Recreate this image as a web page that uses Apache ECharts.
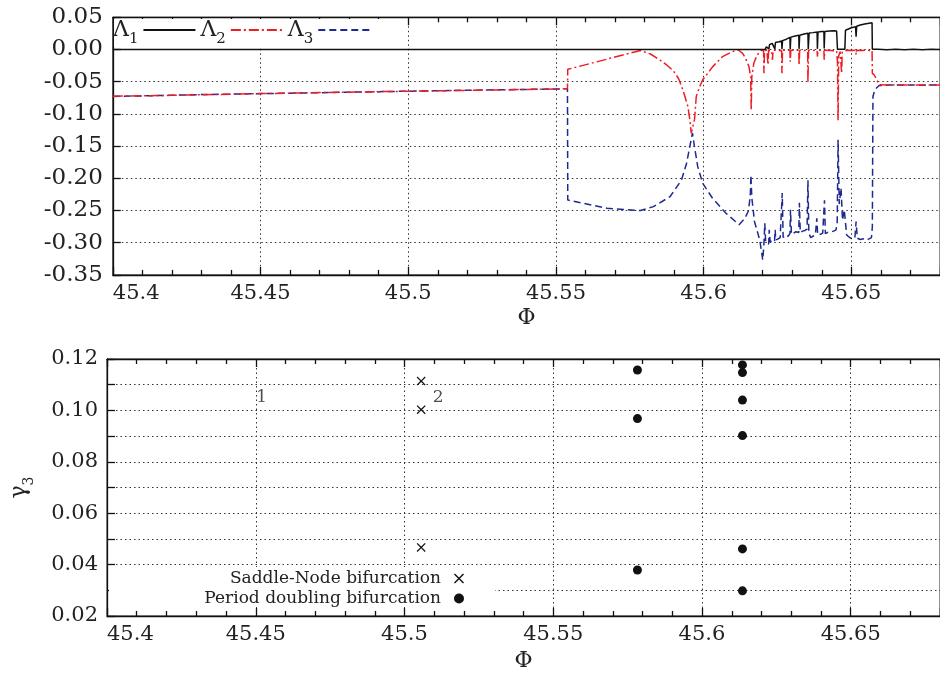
<!DOCTYPE html>
<html>
<head>
<meta charset="utf-8">
<script src="https://cdn.jsdelivr.net/npm/echarts@6/dist/echarts.min.js"></script>
<style>html,body{margin:0;padding:0;background:#fff}#c{width:940px;height:675px}</style>
</head>
<body>
<div id="c"></div>
<script>
// ---------- data ----------
const xTicks = ['45.4', '45.45', '45.5', '45.55', '45.6', '45.65'];
const topYTicks = ['0.05', '0.00', '-0.05', '-0.10', '-0.15', '-0.20', '-0.25', '-0.30', '-0.35'];
const bottomYTicks = ['0.12', '0.10', '0.08', '0.06', '0.04', '0.02'];
const seriesNames = ['Λ1', 'Λ2', 'Λ3'];

const lambda1 = [
  [45.40, 0.0000], [45.45, 0.0000], [45.50, 0.0000], [45.55, 0.0000], [45.60, 0.0000],
  [45.6208, 0.0000], [45.6212, 0.0040], [45.6218, 0.0060], [45.6221, 0.0010], [45.6223, 0.0075],
  [45.6232, 0.0096], [45.6238, 0.0102], [45.6241, 0.0010], [45.6243, 0.0108], [45.6255, 0.0120],
  [45.6264, 0.0132], [45.6265, 0.0005], [45.6267, 0.0138], [45.6280, 0.0160], [45.6292, 0.0188],
  [45.6293, 0.0005], [45.6295, 0.0192], [45.6310, 0.0210], [45.6322, 0.0222], [45.6323, 0.0010],
  [45.6325, 0.0222], [45.6340, 0.0240], [45.6353, 0.0252], [45.6354, 0.0005], [45.6357, 0.0255],
  [45.6370, 0.0262], [45.6384, 0.0270], [45.6385, 0.0010], [45.6387, 0.0272], [45.6400, 0.0278],
  [45.6407, 0.0280], [45.6408, 0.0015], [45.6410, 0.0281], [45.6425, 0.0286], [45.6440, 0.0290],
  [45.6450, 0.0286], [45.6453, 0.0005], [45.6465, 0.0005], [45.6478, 0.0005], [45.6480, 0.0300],
  [45.6490, 0.0318], [45.6500, 0.0338], [45.6514, 0.0355], [45.6516, 0.0200], [45.6518, 0.0360],
  [45.6530, 0.0380], [45.6545, 0.0395], [45.6560, 0.0408], [45.6570, 0.0416], [45.6571, 0.0005],
  [45.6590, 0.0004], [45.6620, -0.0004], [45.6650, 0.0005], [45.6680, -0.0003], [45.6710, 0.0004],
  [45.6740, -0.0004], [45.6770, 0.0003], [45.6800, 0.0000]
];

const lambda2 = [
  [45.400, -0.0725], [45.420, -0.0712], [45.450, -0.0685], [45.480, -0.0662], [45.500, -0.0648],
  [45.530, -0.0628], [45.5539, -0.0610], [45.5540, -0.0308], [45.5673, -0.0150], [45.5786, -0.0015],
  [45.5820, -0.0070], [45.5852, -0.0163], [45.5875, -0.0240], [45.5897, -0.0330], [45.5915, -0.0450],
  [45.5930, -0.0630], [45.5947, -0.0890], [45.5953, -0.1090], [45.5958, -0.1300], [45.5963, -0.1300],
  [45.5969, -0.1090], [45.5975, -0.0730], [45.5986, -0.0580], [45.5997, -0.0470], [45.6030, -0.0270],
  [45.6064, -0.0110], [45.6097, -0.0034], [45.6118, -0.0008], [45.6132, -0.0060], [45.6142, -0.0140],
  [45.6153, -0.0260], [45.6159, -0.0420], [45.6161, -0.0940], [45.6163, -0.0420], [45.6170, -0.0210],
  [45.6181, -0.0085], [45.6196, -0.0010], [45.6203, -0.0020], [45.6204, -0.0370], [45.6206, -0.0020],
  [45.6214, -0.0010], [45.6218, -0.0240], [45.6220, -0.0010], [45.6230, -0.0020], [45.6233, -0.0160],
  [45.6235, -0.0010], [45.6250, -0.0015], [45.6264, -0.0020], [45.6265, -0.0370], [45.6267, -0.0010],
  [45.6280, -0.0015], [45.6292, -0.0010], [45.6293, -0.0190], [45.6295, -0.0010], [45.6310, -0.0015],
  [45.6322, -0.0010], [45.6323, -0.0240], [45.6325, -0.0010], [45.6340, -0.0015], [45.6352, -0.0020],
  [45.6353, -0.0510], [45.6355, -0.0010], [45.6370, -0.0015], [45.6384, -0.0010], [45.6385, -0.0110],
  [45.6387, -0.0010], [45.6400, -0.0015], [45.6407, -0.0020], [45.6408, -0.0160], [45.6410, -0.0010],
  [45.6430, -0.0015], [45.6450, -0.0020], [45.6453, -0.0200], [45.6455, -0.1100], [45.6457, -0.0100],
  [45.6462, -0.0030], [45.6467, -0.0370], [45.6469, -0.0040], [45.6478, -0.0020], [45.6490, -0.0010],
  [45.6505, -0.0015], [45.6515, -0.0010], [45.6516, -0.0080], [45.6518, -0.0010], [45.6535, -0.0015],
  [45.6550, -0.0010], [45.6562, -0.0015], [45.6570, -0.0010], [45.6571, -0.0370], [45.6578, -0.0400],
  [45.6585, -0.0460], [45.6594, -0.0545], [45.6620, -0.0552], [45.6660, -0.0550], [45.6700, -0.0553],
  [45.6750, -0.0551], [45.6800, -0.0552]
];

const lambda3 = [
  [45.400, -0.0730], [45.430, -0.0700], [45.460, -0.0678], [45.490, -0.0655], [45.520, -0.0633],
  [45.5539, -0.0610], [45.5540, -0.2337], [45.5673, -0.2466], [45.5786, -0.2500], [45.5830, -0.2440],
  [45.5886, -0.2286], [45.5925, -0.2026], [45.5942, -0.1770], [45.5953, -0.1510], [45.5962, -0.1300],
  [45.5969, -0.1510], [45.5980, -0.1820], [45.5997, -0.2080], [45.6030, -0.2310], [45.6075, -0.2540],
  [45.6120, -0.2720], [45.6140, -0.2620], [45.6152, -0.2500], [45.6158, -0.2250], [45.6160, -0.1950],
  [45.6163, -0.2300], [45.6172, -0.2670], [45.6190, -0.2960], [45.6200, -0.3270], [45.6204, -0.3020],
  [45.6207, -0.2700], [45.6210, -0.3000], [45.6216, -0.2970], [45.6220, -0.3020], [45.6222, -0.2800],
  [45.6225, -0.2990], [45.6232, -0.2960], [45.6240, -0.2980], [45.6242, -0.2800], [45.6244, -0.2960],
  [45.6252, -0.2940], [45.6259, -0.2920], [45.6264, -0.2900], [45.6266, -0.2230], [45.6269, -0.2920],
  [45.6278, -0.2880], [45.6286, -0.2900], [45.6292, -0.2860], [45.6294, -0.2490], [45.6297, -0.2870],
  [45.6305, -0.2850], [45.6312, -0.2830], [45.6318, -0.2850], [45.6322, -0.2840], [45.6324, -0.2380],
  [45.6327, -0.2840], [45.6335, -0.2820], [45.6343, -0.2810], [45.6350, -0.2790], [45.6353, -0.2030],
  [45.6356, -0.2850], [45.6362, -0.2920], [45.6370, -0.2900], [45.6378, -0.2880], [45.6383, -0.2620],
  [45.6386, -0.2880], [45.6395, -0.2870], [45.6403, -0.2850], [45.6409, -0.2340], [45.6412, -0.2860],
  [45.6420, -0.2840], [45.6430, -0.2830], [45.6440, -0.2820], [45.6448, -0.2800], [45.6452, -0.2700],
  [45.6455, -0.1400], [45.6459, -0.2400], [45.6465, -0.2150], [45.6470, -0.2650], [45.6476, -0.2490],
  [45.6484, -0.2880], [45.6494, -0.2920], [45.6504, -0.2940], [45.6512, -0.2920], [45.6516, -0.2670],
  [45.6520, -0.2930], [45.6530, -0.2950], [45.6540, -0.2940], [45.6550, -0.2960], [45.6560, -0.2940],
  [45.6568, -0.2920], [45.6571, -0.2750], [45.6573, -0.0730], [45.6580, -0.0620], [45.6594, -0.0560],
  [45.6630, -0.0553], [45.6680, -0.0551], [45.6730, -0.0554], [45.6800, -0.0552]
];

const saddleNode = [[45.5056, 0.1114], [45.5056, 0.1003], [45.5056, 0.0467]];
const periodDoubling = [
  [45.5783, 0.1157], [45.5783, 0.0968], [45.5783, 0.0379],
  [45.6136, 0.1177], [45.6136, 0.1147], [45.6136, 0.1040], [45.6136, 0.0902],
  [45.6136, 0.0461], [45.6136, 0.0298]
];
const annotations = [[45.4520, 0.1048, '1'], [45.5113, 0.1048, '2']];
const legendNames = ['Saddle-Node bifurcation', 'Period doubling bifurcation'];

// ---------- chart ----------
const FONT = 'DejaVu Serif';
const INK = '#222';
const fmtX = v => String(+v.toFixed(2));
const fmtTopY = v => { const s = Math.abs(v).toFixed(2); return v < -1e-9 ? '-' + s : s; };
const fmtBotY = v => (Math.round(v * 100) % 2 === 0 ? v.toFixed(2) : '');
const crossPath = 'path://M1,0 L5,4 L9,0 L10,1 L6,5 L10,9 L9,10 L5,6 L1,10 L0,9 L4,5 L0,1 Z';
const gridDots = { color: '#333', width: 1, type: [1.5, 3] };
const tickLine = { color: '#111', width: 1.3 };

function xAxisMain(gi, nameGap) {
  return {
    type: 'value', gridIndex: gi, min: 45.4, max: 45.68, interval: 0.05,
    name: 'Φ', nameLocation: 'middle', nameGap: nameGap,
    nameTextStyle: { fontFamily: FONT, fontSize: 22, color: INK },
    axisLine: { show: true, onZero: false, lineStyle: tickLine },
    axisTick: { show: true, inside: true, length: 8, lineStyle: tickLine },
    minorTick: { show: true, splitNumber: 5, length: 5, lineStyle: tickLine },
    axisLabel: { formatter: fmtX, fontFamily: FONT, fontSize: 21, color: INK, margin: 8,
                 alignMinLabel: 'left', showMaxLabel: false },
    splitLine: { show: true, lineStyle: gridDots }
  };
}
function xAxisMirror(gi) {
  return {
    type: 'value', gridIndex: gi, position: 'top', min: 45.4, max: 45.68, interval: 0.05,
    axisLine: { show: true, onZero: false, lineStyle: tickLine },
    axisLabel: { show: false }, splitLine: { show: false },
    axisTick: { show: true, inside: true, length: 8, lineStyle: tickLine },
    minorTick: { show: true, splitNumber: 5, length: 5, lineStyle: tickLine }
  };
}

const option = {
  animation: false,
  backgroundColor: '#fff',
  grid: [
    { left: 112.8, top: 17.3, width: 837.2, height: 257.6, show: true, borderColor: INK, borderWidth: 1, backgroundColor: 'transparent' },
    { left: 101.4, top: 359, width: 847.3, height: 257, show: true, borderColor: INK, borderWidth: 1, backgroundColor: 'transparent' }
  ],
  xAxis: [xAxisMain(0, 32), xAxisMirror(0), xAxisMain(1, 34), xAxisMirror(1)],
  yAxis: [
    {
      type: 'value', gridIndex: 0, min: -0.35, max: 0.05, interval: 0.05,
      axisLine: { show: true, onZero: false, lineStyle: tickLine },
      axisTick: { show: true, inside: true, length: 8, lineStyle: tickLine },
      axisLabel: { formatter: fmtTopY, fontFamily: FONT, fontSize: 23, color: INK, margin: 10 },
      splitLine: { show: true, lineStyle: gridDots }
    },
    {
      type: 'value', gridIndex: 1, min: 0.02, max: 0.12, interval: 0.01,
      name: '{g|γ}{s|3}', nameLocation: 'middle', nameGap: 75,
      nameTextStyle: { rich: {
        g: { fontFamily: FONT, fontSize: 22, color: INK, lineHeight: 26, verticalAlign: 'middle' },
        s: { fontFamily: FONT, fontSize: 14, color: INK, lineHeight: 26, verticalAlign: 'bottom', padding: [0, 0, -4, 0] }
      } },
      axisLine: { show: true, onZero: false, lineStyle: tickLine },
      axisTick: { show: true, inside: true, length: 8, lineStyle: tickLine },
      axisLabel: { formatter: fmtBotY, fontFamily: FONT, fontSize: 21, color: INK, margin: 9 },
      splitLine: { show: true, lineStyle: gridDots }
    }
  ],
  graphic: [
    { type: 'rect', z: 3, shape: { x: 114, y: 19, width: 276, height: 28 }, style: { fill: '#fff' } },
    { type: 'rect', z: 3, shape: { x: 109, y: 567, width: 386, height: 40 }, style: { fill: '#fff' } }
  ],
  legend: [
    {
      data: seriesNames, left: 113, top: 19, orient: 'horizontal', align: 'right',
      itemWidth: 52, itemHeight: 12, itemGap: 4, padding: 0, z: 6,
      itemStyle: { opacity: 0 },
      formatter: n => '{a|Λ}{s|' + n.slice(1) + '}',
      textStyle: { rich: {
        a: { fontFamily: FONT, fontSize: 22, color: INK, lineHeight: 28, verticalAlign: 'middle' },
        s: { fontFamily: FONT, fontSize: 15, color: INK, lineHeight: 28, verticalAlign: 'bottom', padding: [0, 0, -3, 0] }
      } }
    },
    {
      data: [legendNames[0]], right: 476, top: 570, align: 'right', itemWidth: 26, itemHeight: 10,
      padding: 0, z: 6, textStyle: { fontFamily: FONT, fontSize: 17, color: INK }
    },
    {
      data: [legendNames[1]], right: 476, top: 590, align: 'right', itemWidth: 26, itemHeight: 10,
      padding: 0, z: 6, textStyle: { fontFamily: FONT, fontSize: 17, color: INK }
    }
  ],
  series: [
    { name: seriesNames[2], type: 'line', xAxisIndex: 0, yAxisIndex: 0, data: lambda3,
      symbol: 'circle', showSymbol: false,
      lineStyle: { color: '#1f2a8f', width: 1.5, type: [7, 4] }, itemStyle: { color: '#1f2a8f' }, z: 2 },
    { name: seriesNames[1], type: 'line', xAxisIndex: 0, yAxisIndex: 0, data: lambda2,
      symbol: 'circle', showSymbol: false,
      lineStyle: { color: '#ee1c24', width: 1.5, type: [10, 3, 2, 3] }, itemStyle: { color: '#ee1c24' }, z: 2 },
    { name: seriesNames[0], type: 'line', xAxisIndex: 0, yAxisIndex: 0, data: lambda1,
      symbol: 'circle', showSymbol: false,
      lineStyle: { color: '#111', width: 1.5 }, itemStyle: { color: '#111' }, z: 2 },
    { name: legendNames[0], type: 'scatter', xAxisIndex: 2, yAxisIndex: 1, data: saddleNode,
      symbol: crossPath, symbolSize: 9, itemStyle: { color: '#111', opacity: 1 } },
    { name: legendNames[1], type: 'scatter', xAxisIndex: 2, yAxisIndex: 1, data: periodDoubling,
      symbol: 'circle', symbolSize: 9, itemStyle: { color: '#111', opacity: 1 } },
    { name: 'labels', type: 'scatter', xAxisIndex: 2, yAxisIndex: 1, data: annotations,
      symbol: 'circle', symbolSize: 1, itemStyle: { color: 'rgba(0,0,0,0)' }, silent: true,
      label: { show: true, position: 'inside', formatter: p => p.value[2],
               fontFamily: FONT, fontSize: 17, color: INK } }
  ]
};

const chart = echarts.init(document.getElementById('c'), null, { renderer: 'canvas' });
chart.setOption(option);
</script>
</body>
</html>
